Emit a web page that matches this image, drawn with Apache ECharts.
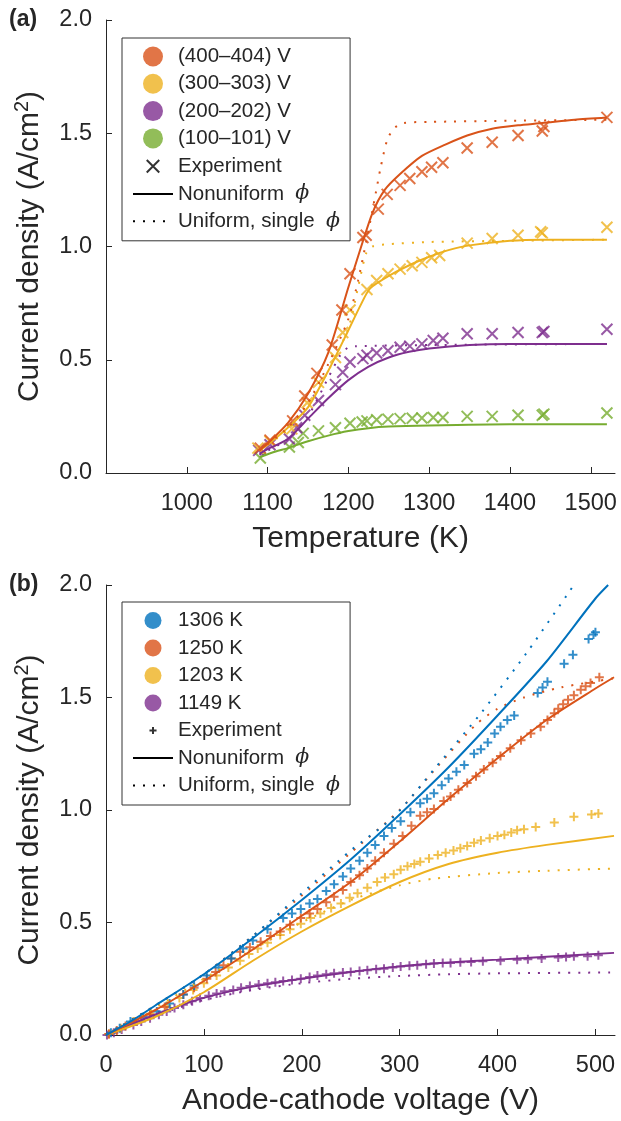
<!DOCTYPE html>
<html>
<head>
<meta charset="utf-8">
<script src="https://cdn.jsdelivr.net/npm/echarts@6/dist/echarts.min.js"></script>
<style>
html, body { margin: 0; padding: 0; background: #fff; }
#a { width: 621px; height: 560px; }
#b { width: 621px; height: 561px; }
</style>
</head>
<body>
<div id="a"></div>
<div id="b"></div>
<script>
// ---- panel (a): current density vs temperature ----
var xTicksA = [1000, 1100, 1200, 1300, 1400, 1500];
var yTicks = [0, 0.5, 1, 1.5, 2];
var namesA = ['(400–404) V', '(300–303) V', '(200–202) V', '(100–101) V'];

var expA400 = [[1091,0.11],[1103,0.145],[1131,0.23],[1146,0.34],[1161,0.44],[1180,0.565],[1192,0.72],[1202,0.88],[1218,1.04],[1222,1.05],[1237,1.165],[1248,1.23],[1264,1.27],[1276,1.30],[1291,1.33],[1303,1.35],[1317,1.37],[1347,1.435],[1378,1.46],[1410,1.49],[1440,1.51],[1442,1.53],[1520,1.57]];
var expA300 = [[1088,0.11],[1103,0.14],[1130,0.195],[1149,0.31],[1163,0.40],[1184,0.51],[1193,0.62],[1202,0.72],[1223,0.81],[1235,0.85],[1249,0.88],[1264,0.90],[1279,0.915],[1291,0.93],[1303,0.95],[1313,0.96],[1347,1.015],[1378,1.035],[1410,1.05],[1438,1.065],[1440,1.06],[1520,1.085]];
var expA200 = [[1089,0.10],[1103,0.125],[1127,0.15],[1136,0.20],[1146,0.255],[1163,0.32],[1184,0.39],[1193,0.445],[1202,0.49],[1218,0.505],[1223,0.52],[1235,0.53],[1249,0.54],[1264,0.555],[1276,0.56],[1291,0.57],[1305,0.585],[1317,0.595],[1347,0.615],[1378,0.615],[1410,0.62],[1440,0.62],[1442,0.625],[1520,0.635]];
var expA100 = [[1091,0.066],[1127,0.115],[1138,0.135],[1144,0.175],[1163,0.186],[1184,0.20],[1202,0.22],[1217,0.225],[1223,0.23],[1235,0.235],[1249,0.238],[1264,0.24],[1279,0.242],[1291,0.243],[1305,0.245],[1317,0.245],[1347,0.25],[1378,0.25],[1410,0.255],[1440,0.255],[1442,0.26],[1520,0.265]];

var nonA400 = [[1090,0.10],[1100,0.13],[1125,0.22],[1150,0.35],[1175,0.53],[1200,0.82],[1215,0.99],[1230,1.15],[1245,1.25],[1264,1.32],[1291,1.40],[1320,1.45],[1347,1.49],[1378,1.52],[1410,1.535],[1440,1.545],[1480,1.56],[1520,1.57]];
var nonA300 = [[1090,0.10],[1100,0.125],[1125,0.20],[1150,0.29],[1175,0.45],[1200,0.63],[1215,0.74],[1227,0.815],[1255,0.88],[1280,0.925],[1300,0.955],[1325,0.985],[1350,1.005],[1400,1.025],[1440,1.03],[1520,1.03]];
var nonA200 = [[1090,0.085],[1100,0.105],[1125,0.15],[1150,0.24],[1175,0.33],[1200,0.41],[1225,0.47],[1250,0.51],[1275,0.535],[1300,0.55],[1350,0.565],[1400,0.57],[1520,0.57]];
var nonA100 = [[1090,0.07],[1110,0.095],[1125,0.11],[1150,0.14],[1175,0.165],[1200,0.185],[1225,0.198],[1250,0.205],[1300,0.21],[1400,0.215],[1520,0.215]];

var uniA400 = [[1090,0.10],[1125,0.20],[1150,0.31],[1175,0.48],[1200,0.68],[1212,0.85],[1222,1.02],[1232,1.20],[1240,1.35],[1248,1.47],[1256,1.52],[1268,1.545],[1300,1.55],[1400,1.555],[1520,1.56]];
var uniA300 = [[1090,0.10],[1125,0.19],[1150,0.30],[1175,0.45],[1200,0.64],[1212,0.82],[1222,0.97],[1230,1.00],[1250,1.01],[1300,1.02],[1400,1.025],[1520,1.03]];
var uniA200 = [[1090,0.08],[1125,0.15],[1150,0.25],[1175,0.42],[1190,0.52],[1200,0.555],[1210,0.56],[1300,0.565],[1520,0.57]];

// ---- panel (b): current density vs anode-cathode voltage ----
var xTicksB = [0, 100, 200, 300, 400, 500];
var namesB = ['1306 K', '1250 K', '1203 K', '1149 K'];

var expB1306 = [[5,0.01],[14,0.03],[25,0.06],[38,0.08],[52,0.105],[65,0.14],[79,0.18],[90,0.22],[103,0.265],[115,0.30],[128,0.34],[140,0.385],[150,0.42],[165,0.47],[181,0.52],[190,0.54],[199,0.56],[208,0.585],[216,0.605],[225,0.64],[233,0.67],[242,0.705],[250,0.74],[259,0.775],[267,0.81],[275,0.845],[284,0.885],[292,0.92],[301,0.95],[311,0.99],[321,1.03],[328,1.05],[335,1.075],[343,1.11],[350,1.14],[358,1.17],[366,1.20],[376,1.25],[383,1.27],[390,1.30],[397,1.34],[403,1.37],[410,1.40],[417,1.42],[441,1.52],[446,1.545],[451,1.57],[468,1.65],[477,1.69],[493,1.76],[498,1.78],[500,1.79]];
var expB1250 = [[3,0.005],[11,0.02],[20,0.04],[30,0.06],[45,0.09],[60,0.125],[79,0.18],[90,0.21],[103,0.25],[112,0.28],[120,0.31],[128,0.34],[137,0.37],[147,0.39],[158,0.415],[168,0.44],[178,0.46],[188,0.49],[199,0.52],[208,0.54],[216,0.56],[225,0.59],[233,0.615],[242,0.645],[250,0.68],[259,0.71],[267,0.74],[275,0.775],[284,0.81],[294,0.85],[303,0.885],[312,0.93],[321,0.975],[328,0.99],[335,1.005],[345,1.04],[352,1.06],[360,1.09],[369,1.12],[378,1.15],[386,1.18],[395,1.21],[403,1.24],[413,1.275],[424,1.31],[434,1.34],[444,1.37],[451,1.40],[458,1.43],[462,1.45],[467,1.47],[472,1.49],[478,1.51],[485,1.535],[490,1.55],[495,1.565],[504,1.59]];
var expB1203 = [[3,0.005],[15,0.03],[28,0.06],[45,0.095],[62,0.13],[75,0.165],[89,0.20],[100,0.23],[113,0.265],[125,0.30],[137,0.33],[146,0.36],[155,0.385],[165,0.41],[178,0.445],[188,0.47],[199,0.495],[209,0.52],[219,0.54],[230,0.565],[240,0.585],[249,0.61],[257,0.63],[267,0.655],[277,0.68],[285,0.70],[294,0.715],[301,0.735],[308,0.75],[315,0.76],[321,0.77],[330,0.785],[339,0.80],[347,0.81],[355,0.82],[362,0.83],[369,0.84],[376,0.855],[383,0.865],[392,0.875],[400,0.885],[407,0.89],[414,0.90],[420,0.91],[427,0.915],[439,0.925],[458,0.945],[478,0.97],[496,0.98],[503,0.985]];
var expB1149 = [[1,0.0],[8,0.01],[16,0.025],[28,0.045],[36,0.06],[45,0.075],[54,0.09],[62,0.105],[70,0.12],[79,0.135],[88,0.15],[96,0.165],[105,0.175],[113,0.185],[121,0.195],[130,0.20],[138,0.21],[147,0.218],[156,0.225],[165,0.23],[173,0.235],[181,0.24],[190,0.245],[199,0.25],[208,0.258],[216,0.265],[225,0.27],[233,0.275],[242,0.278],[250,0.28],[259,0.285],[267,0.288],[276,0.292],[284,0.295],[293,0.30],[301,0.305],[310,0.308],[318,0.31],[327,0.315],[335,0.318],[344,0.32],[352,0.32],[362,0.323],[373,0.325],[385,0.328],[403,0.33],[420,0.335],[431,0.337],[445,0.34],[462,0.345],[470,0.347],[478,0.35],[492,0.35],[503,0.355]];

var nonB1306 = [[0,0],[25,0.06],[50,0.13],[100,0.27],[150,0.43],[200,0.60],[250,0.78],[300,0.98],[350,1.19],[400,1.42],[450,1.66],[500,1.94],[513,2.0]];
var nonB1250 = [[0,0],[50,0.11],[100,0.24],[150,0.38],[200,0.53],[250,0.68],[300,0.86],[350,1.05],[400,1.23],[450,1.40],[500,1.54],[519,1.59]];
var nonB1203 = [[0,0],[50,0.08],[100,0.19],[150,0.33],[200,0.46],[250,0.575],[300,0.68],[350,0.76],[400,0.81],[450,0.845],[519,0.885]];
var nonB1149 = [[0,0],[50,0.09],[100,0.165],[150,0.215],[200,0.25],[250,0.28],[300,0.305],[350,0.322],[400,0.335],[450,0.348],[519,0.365]];

var uniB1306 = [[0,0],[50,0.13],[100,0.27],[150,0.44],[200,0.63],[250,0.82],[294,0.97],[335,1.18],[383,1.43],[430,1.70],[478,2.0]];
var uniB1250 = [[0,0],[50,0.13],[100,0.27],[150,0.44],[200,0.62],[250,0.81],[300,1.0],[340,1.2],[378,1.38],[400,1.45],[427,1.5],[465,1.545],[519,1.585]];
var uniB1203 = [[0,0],[50,0.12],[100,0.25],[150,0.38],[200,0.50],[250,0.60],[300,0.665],[335,0.695],[400,0.72],[450,0.73],[519,0.74]];
var uniB1149 = [[0,0],[50,0.085],[100,0.155],[150,0.20],[200,0.23],[250,0.25],[300,0.262],[350,0.27],[400,0.274],[519,0.278]];

var C = { blue: '#0072BD', orange: '#D95319', yellow: '#EDB120', purple: '#7E2F8E', green: '#77AC30' };
var TEXT = '#262626';
var FONT = '"Liberation Sans", Arial, sans-serif';
var NON = 'Nonuniform  ϕ';
var UNI = 'Uniform, single  ϕ';
var X_SYM = 'path://M0 0L10 10M10 0L0 10';
var PLUS_SYM = 'path://M5 0L5 10M0 5L10 5';
// padded copies so the legend icon stays small
var X_ICON = 'path://M-3 -3M13 13M0 0L10 10M10 0L0 10';
var PLUS_ICON = 'path://M-7 -7M17 17M5 0L5 10M0 5L10 5';
var DOT = [2, 8];

function lineS(data, color, dotted) {
  return {
    type: 'line', data: data, symbol: 'none', smooth: 0.25,
    lineStyle: { color: color, width: 2, type: dotted ? DOT : 'solid' },
    silent: true
  };
}

function expS(data, color, sym, size) {
  return {
    type: 'scatter', data: data, symbol: sym, symbolSize: size,
    itemStyle: { color: 'transparent', borderColor: color, borderWidth: 2 },
    silent: true
  };
}

function legendSeries(names, colors, icon) {
  var s = names.map(function (n, i) {
    return { name: n, type: 'scatter', data: [], symbol: 'circle', itemStyle: { color: colors[i] } };
  });
  s.push({ name: 'Experiment', type: 'scatter', data: [], symbol: icon, symbolKeepAspect: true,
    itemStyle: { color: 'transparent', borderColor: '#000', borderWidth: 2 } });
  s.push({ name: NON, type: 'line', data: [], symbol: 'none', itemStyle: { color: '#000' },
    lineStyle: { color: '#000', width: 2 } });
  s.push({ name: UNI, type: 'line', data: [], symbol: 'none', itemStyle: { color: '#000' },
    lineStyle: { color: '#000', width: 2, type: DOT } });
  return s;
}

function initPanel(dom, p) {
  var myChart = echarts.init(document.getElementById(dom));
  var hidden = { opacity: 0, borderWidth: 0 };
  var option = {
    animation: false,
    graphic: [{ type: 'text', left: 9, top: p.labelTop,
      style: { text: p.label, font: 'bold 23px ' + FONT, fill: TEXT } }],
    grid: p.grid,
    legend: {
      left: 122, top: p.legendTop, orient: 'vertical',
      itemWidth: 40, itemHeight: p.iconH, itemGap: p.itemGap,
      padding: [8, 10, 9, 10],
      borderColor: '#333', borderWidth: 1, backgroundColor: '#fff',
      selectedMode: false,
      data: p.legendNames.concat([
        { name: 'Experiment', icon: p.icon, itemStyle: { color: 'transparent', borderColor: '#000', borderWidth: 2 } },
        { name: NON, itemStyle: hidden },
        { name: UNI, itemStyle: hidden }
      ]),
      formatter: function (n) { return n.replace('ϕ', '{i|ϕ}'); },
      textStyle: {
        fontSize: 20.5, color: TEXT, fontFamily: FONT,
        rich: { i: { fontSize: 20.5, color: TEXT, fontStyle: 'italic', fontFamily: '"DejaVu Serif", serif' } }
      }
    },
    xAxis: {
      type: 'value', min: p.xMin, max: p.xMax,
      name: p.xName, nameLocation: 'middle', nameGap: 51,
      nameTextStyle: { fontSize: 30, color: TEXT, fontFamily: FONT },
      axisLine: { show: true, onZero: false, lineStyle: { color: TEXT, width: 1 } },
      axisTick: { show: true, inside: true, length: 6, customValues: p.xTicks, lineStyle: { color: TEXT } },
      axisLabel: { customValues: p.xTicks, fontSize: 23.5, color: TEXT, fontFamily: FONT, margin: 19,
        formatter: function (v) { return String(v); } },
      splitLine: { show: false }
    },
    yAxis: {
      type: 'value', min: 0, max: 2, interval: 0.5,
      name: 'Current density (A/cm{sup|2})', nameLocation: 'middle', nameGap: 58,
      nameTextStyle: { fontSize: 30, color: TEXT, fontFamily: FONT,
        rich: { sup: { fontSize: 20, color: TEXT, fontFamily: FONT, padding: [0, 0, 16, 0] } } },
      axisLine: { show: true, onZero: false, lineStyle: { color: TEXT, width: 1 } },
      axisTick: { show: true, inside: true, length: 6, customValues: yTicks, lineStyle: { color: TEXT } },
      axisLabel: { customValues: yTicks, fontSize: 23.5, color: TEXT, fontFamily: FONT, margin: 14,
        formatter: function (v) { return v.toFixed(1); } },
      splitLine: { show: false }
    },
    series: p.series.concat(legendSeries(p.legendNames, p.colors, p.icon))
  };
  myChart.setOption(option);
  return myChart;
}

initPanel('a', {
  label: '(a)', labelTop: 8,
  grid: { left: 106, right: 6, top: 20, bottom: 87 },
  xMin: 900, xMax: 1530, xTicks: xTicksA, xName: 'Temperature (K)',
  legendTop: 38, iconH: 20, itemGap: 6.3, icon: X_ICON,
  legendNames: namesA, colors: [C.orange, C.yellow, C.purple, C.green],
  series: [
    lineS(nonA100, C.green, false),
    lineS(nonA200, C.purple, false), lineS(uniA200, C.purple, true),
    lineS(nonA300, C.yellow, false), lineS(uniA300, C.yellow, true),
    lineS(nonA400, C.orange, false), lineS(uniA400, C.orange, true),
    expS(expA100, C.green, X_SYM, 11),
    expS(expA200, C.purple, X_SYM, 11),
    expS(expA300, C.yellow, X_SYM, 11),
    expS(expA400, C.orange, X_SYM, 11)
  ]
});

initPanel('b', {
  label: '(b)', labelTop: 13,
  grid: { left: 106, right: 6, top: 25, bottom: 84 },
  xMin: 0, xMax: 520, xTicks: xTicksB, xName: 'Anode-cathode voltage (V)',
  legendTop: 42, iconH: 17, itemGap: 6.5, icon: PLUS_ICON,
  legendNames: namesB, colors: [C.blue, C.orange, C.yellow, C.purple],
  series: [
    lineS(nonB1149, C.purple, false), lineS(uniB1149, C.purple, true),
    lineS(nonB1203, C.yellow, false), lineS(uniB1203, C.yellow, true),
    lineS(nonB1250, C.orange, false), lineS(uniB1250, C.orange, true),
    lineS(nonB1306, C.blue, false), lineS(uniB1306, C.blue, true),
    expS(expB1149, C.purple, PLUS_SYM, 9),
    expS(expB1203, C.yellow, PLUS_SYM, 9),
    expS(expB1250, C.orange, PLUS_SYM, 9),
    expS(expB1306, C.blue, PLUS_SYM, 9)
  ]
});
</script>
</body>
</html>
